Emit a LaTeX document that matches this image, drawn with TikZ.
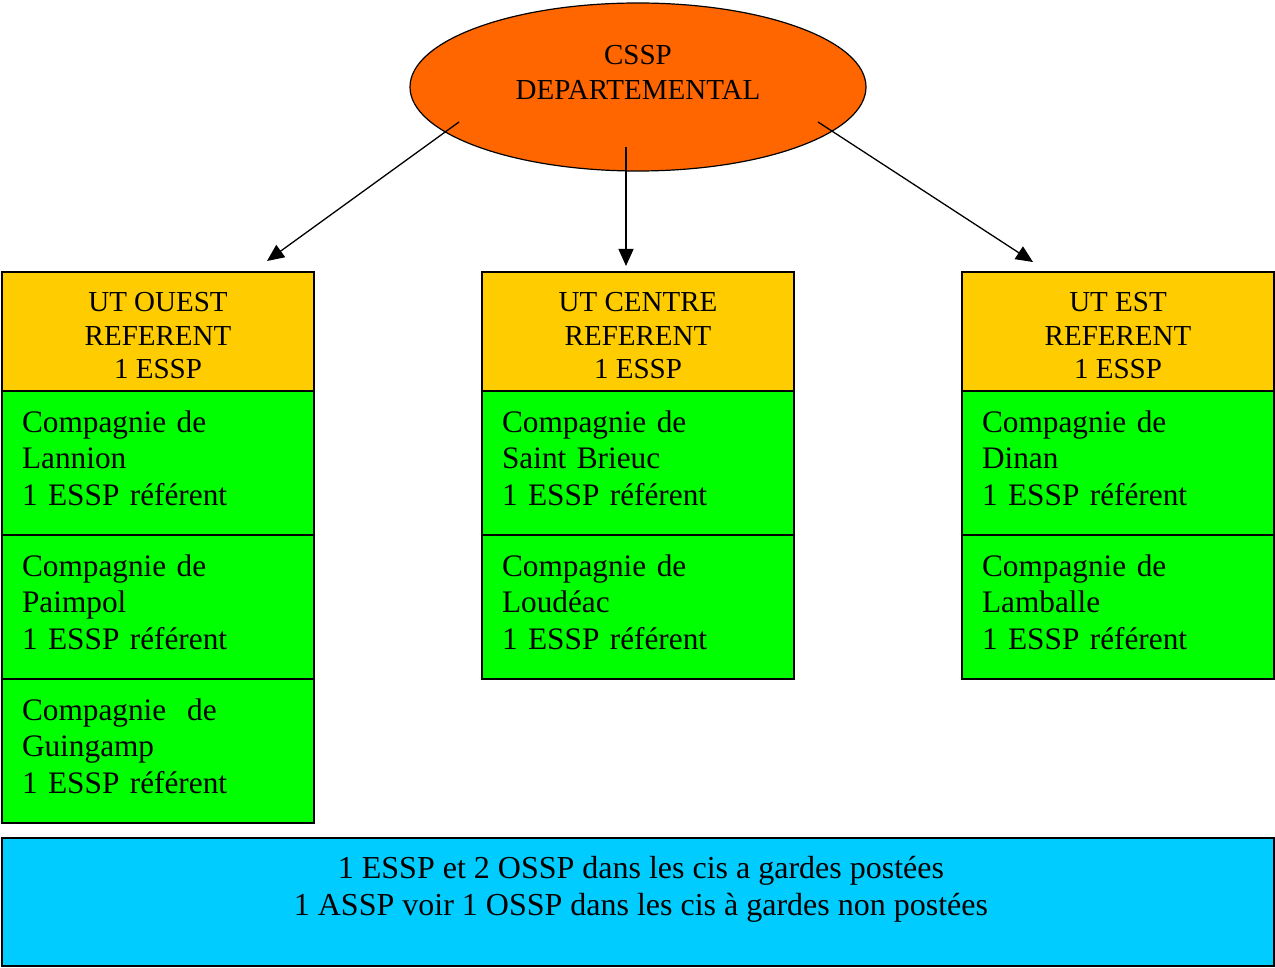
\documentclass[tikz,border=0pt]{standalone}
\usepackage{fontspec}
\setmainfont{Liberation Serif}
\usetikzlibrary{arrows.meta,shapes.geometric}
\definecolor{orng}{HTML}{FF6600}
\definecolor{ylw}{HTML}{FFCC00}
\definecolor{grn}{HTML}{00FF00}
\definecolor{blu}{HTML}{00CCFF}
\tikzset{
  hdr/.style={draw, fill=ylw, line width=1.5pt, minimum width=312pt, minimum height=119pt,
    inner sep=0pt, align=center, font=\fontsize{29}{33.5}\selectfont},
  cie/.style={draw, fill=grn, line width=1.5pt, minimum width=312pt, minimum height=144pt,
    inner xsep=20pt, inner ysep=0pt, text width=272pt, align=left, font=\fontsize{31.3}{36.5}\selectfont},
  arr/.style={line width=1.3pt, -{Triangle[length=17pt,width=15pt]}},
  txt/.style={inner sep=0pt, align=center},
}
\newcommand{\hdrtext}[1]{\raisebox{-13.25pt}[0pt][0pt]{\begin{tabular}{@{}c@{}}#1\end{tabular}}}
\newcommand{\cietext}[1]{\raisebox{-4.8pt}[0pt][0pt]{\begin{tabular}{@{}l@{}}#1\end{tabular}}}
\begin{document}
\begin{tikzpicture}[x=1pt,y=-1pt]
\useasboundingbox (0,0) rectangle (1275,968);
% top ellipse
\node[ellipse, draw, fill=orng, line width=1.2pt, minimum width=456pt, minimum height=168pt, inner sep=0pt] (top) at (638,87) {};
\node[txt, font=\fontsize{29}{35}\selectfont] (toptxt) at (638,72.5) {CSSP\\DEPARTEMENTAL};
% headers
\node[hdr] (h1) at (158,331.5) {\hdrtext{UT OUEST\\REFERENT\\1 ESSP}};
\node[hdr] (h2) at (638,331.5) {\hdrtext{UT CENTRE\\REFERENT\\1 ESSP}};
\node[hdr] (h3) at (1118,331.5) {\hdrtext{UT EST\\REFERENT\\1 ESSP}};
% companies
\node[cie] (c1) at (158,463) {\cietext{Compagnie de\\Lannion\\1 ESSP référent}};
\node[cie] (c2) at (158,607) {\cietext{Compagnie de\\Paimpol\\1 ESSP référent}};
\node[cie] (c3) at (158,751) {\cietext{Compagnie\ \ de\\Guingamp\\1 ESSP référent}};
\node[cie] (c4) at (638,463) {\cietext{Compagnie de\\Saint Brieuc\\1 ESSP référent}};
\node[cie] (c5) at (638,607) {\cietext{Compagnie de\\Loudéac\\1 ESSP référent}};
\node[cie] (c6) at (1118,463) {\cietext{Compagnie de\\Dinan\\1 ESSP référent}};
\node[cie] (c7) at (1118,607) {\cietext{Compagnie de\\Lamballe\\1 ESSP référent}};
% bottom box
\node[draw, fill=blu, line width=1.5pt, minimum width=1272pt, minimum height=128pt, inner sep=0pt] (bot) at (638,902) {};
\node[txt, font=\fontsize{32}{37}\selectfont] (bottxt) at (641,889.5) {1 ESSP et 2 OSSP dans les cis a gardes postées\\1 ASSP voir 1 OSSP dans les cis à gardes non postées};
% arrows
\coordinate (s1) at (459,122);
\coordinate (e1) at (267,261);
\coordinate (s2) at (626,147);
\coordinate (e2) at (626,266);
\coordinate (s3) at (818,122);
\coordinate (e3) at (1033,262);
\draw[arr] (s1) -- (e1);
\draw[arr] (s2) -- (e2);
\draw[arr] (s3) -- (e3);
\end{tikzpicture}
\end{document}
